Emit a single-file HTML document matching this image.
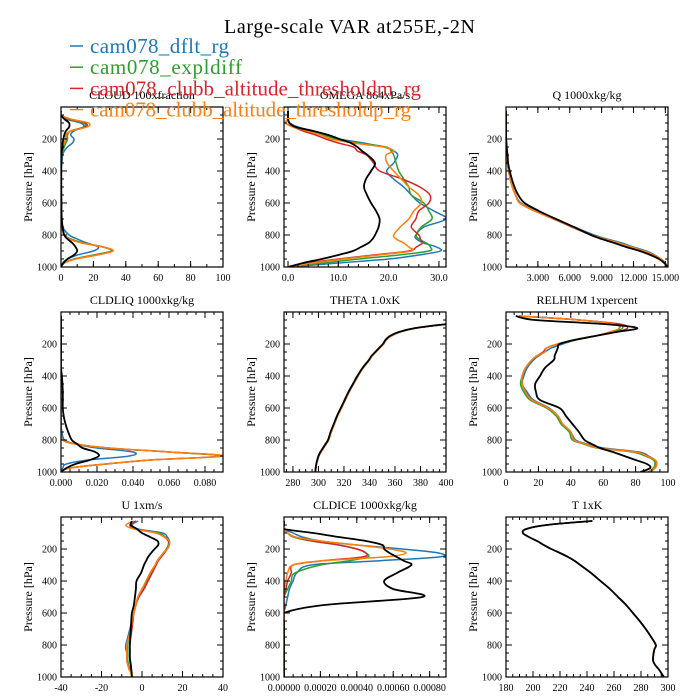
<!DOCTYPE html>
<html><head><meta charset="utf-8"><style>
html,body{margin:0;padding:0;background:#fff;}
svg{display:block;font-family:"Liberation Serif",serif;}
</style></head><body>
<svg id="fig" width="700" height="700" viewBox="0 0 700 700" xmlns="http://www.w3.org/2000/svg">
<rect width="700" height="700" fill="#fff"/>
<text x="224" y="33" font-size="20" textLength="251">Large-scale VAR at255E,-2N</text>
<g id="panels"></g>
<g id="legend"></g>
</svg>
<script>
const levels=[25,50,75,100,125,150,175,200,225,250,275,300,350,400,450,500,550,600,650,700,750,800,825,850,875,900,925,950,975,1000];
const seriesNames=["cam078_dflt_rg","cam078_expldiff","cam078_clubb_altitude_thresholdm_rg","cam078_clubb_altitude_thresholdp_rg"];
const seriesColors=["#1f77b4","#2ca02c","#d62728","#ff7f0e","#000000"];

// CLOUD
const cloudBlue=[0,0,3,12,14,8,6,8,7,4,2,1,0.5,0,0,0,0,0,0,0,1,5,10,16,23,20,10,4,1,0];
const cloudGreen=[0,0,4,14,14,6,4,4,3,2,1,0.5,0,0,0,0,0,0,0,0,0.5,2,6,14,26,31,20,8,2,0];
const cloudRed=[0,0,5,15,15,6,3,3,2,1,0.5,0,0,0,0,0,0,0,0,0,0.5,2,5,13,26,32,22,9,2,0];
const cloudOrange=[0,0,6,17,16,6,3,3,2,1,0.5,0,0,0,0,0,0,0,0,0,0.5,2,5,13,26,32,22,9,2,0];
const cloudBlack=[0,0,2,5,5,3,2,1.5,1,1,0.5,0.3,0.2,0.2,0.2,0.2,0.2,0.3,0.3,0.5,1,2,4,7,9,10,8,4,1.5,0];
// OMEGA
const omegaBlue=[0,0,0,0.3,2,5,8,10.2,15,19.1,21,21.8,21,19.6,21,23,24.5,26.2,29,31.4,27,25.4,25.5,27,29.5,30.3,26,20,10,0];
const omegaGreen=[0,0,0,0.2,1.5,4.5,7,9.5,14,19.5,20.5,21,21.5,22,23,24,24.5,27,28,28.6,26.5,25.5,26,27.5,28.3,28,22,14,7,0];
const omegaRed=[0,0,0,-0.5,1,3,5.5,7.5,10,13,13.8,15.6,17,18.2,22.7,26.2,28.2,28,26,25.4,24.5,26,26.3,26.7,25.5,24,17,10,4,0];
const omegaOrange=[0,0,0,-0.5,1,4,6.5,8.5,13,19,21,19.5,19.7,21,22.5,24,26,26.5,25,24,22.3,21,21.5,23,24,24.5,18,11,5,0];
const omegaBlack=[0,0,0,0.3,1.5,5,8,10.2,12.5,13.8,14.7,15.8,17.3,16.5,15.5,15.1,15.7,16.5,17.5,18.2,18,17.3,16.8,16,14.5,12.9,10,6.7,3,0];
// Q
const qBlue=[0,0,0,0,0,0,0.01,0.02,0.03,0.05,0.08,0.12,0.14,0.25,0.4,0.6,0.9,1.4,2.8,4.6,6.4,8.3,9.5,10.9,12.0,13.2,14.0,14.6,15.0,15.2];
const qGreen=[0,0,0,0,0,0,0.01,0.02,0.03,0.05,0.08,0.12,0.14,0.25,0.4,0.6,0.9,1.3,2.7,4.5,6.2,8.0,9.2,10.5,11.7,12.9,13.8,14.5,14.9,15.2];
const qRed=[0,0,0,0,0,0,0.01,0.02,0.03,0.05,0.08,0.12,0.14,0.25,0.4,0.6,0.9,1.3,2.7,4.5,6.2,8.0,9.2,10.5,11.7,12.9,13.8,14.5,14.9,15.2];
const qOrange=[0,0,0,0,0,0,0.01,0.02,0.03,0.05,0.08,0.12,0.14,0.25,0.4,0.6,0.9,1.3,2.7,4.5,6.3,8.1,9.3,10.6,11.8,13.0,13.9,14.6,15.0,15.2];
const qBlack=[0,0,0,0,0,0,0.01,0.02,0.04,0.07,0.1,0.15,0.2,0.35,0.55,0.8,1.15,1.75,3.1,4.7,6.4,8.0,9.0,10.2,11.3,12.6,13.6,14.4,14.9,15.2];
// CLDLIQ
const liqBlue=[0,0,0,0,0,0,0,0,0,0,0,0,0,0,0,0,0,0,0,0,0.0005,0.002,0.008,0.02,0.04,0.038,0.015,0.003,0.001,0];
const liqGreen=[0,0,0,0,0,0,0,0,0,0,0,0,0,0,0,0,0,0,0,0,0,0.001,0.008,0.026,0.06,0.088,0.05,0.025,0.005,0];
const liqRed=[0,0,0,0,0,0,0,0,0,0,0,0,0,0,0,0,0,0,0,0,0,0.001,0.008,0.026,0.06,0.09,0.05,0.025,0.005,0];
const liqOrange=[0,0,0,0,0,0,0,0,0,0,0,0,0,0,0,0,0,0,0,0,0,0.001,0.008,0.026,0.06,0.09,0.05,0.025,0.005,0];
const liqBlack=[0,0,0,0,0,0,0,0,0,0,0,0,0,0.0005,0.0008,0.001,0.001,0.001,0.0015,0.0025,0.004,0.006,0.009,0.012,0.019,0.021,0.016,0.008,0.003,0];
// THETA
const thBlue=[480,430,402,377,364,357,353,351,348,345,342,340,335,331,327.5,324,321,318,315,312.5,310,308,306,304,302,300.3,299.3,298.5,298,297.8];
const thGreen=thBlue.slice(), thRed=thBlue.slice(), thOrange=thBlue.slice();
const thBlack=[480,430,401,376,363,356,352.5,350.5,347.5,344.5,341.5,339.5,334.5,330.5,327,323.5,320.5,317.5,314.5,312,309.5,307.5,305.5,303.5,301.5,300,299,298.3,297.8,297.5];
// RELHUM
const rhBlue=[8,45,68,70,66,55,43,35,28,24,20,17,13,11,10,13,17,26.6,32,35,40,43,50,60,82,88,92,93,92,89];
const rhGreen=[8,45,68,72,66,55,42,32,25,23,19,16,12,10,9,11,15,25,31,34,39,41,48,56,78,86,91,92,91,88];
const rhRed=[8,45,70,75,68,55,42,32,25,23,19,16,12,10,10,12,16,26,32,35,40,42,49,57,80,87,92,93,92,88];
const rhOrange=[8,45,66,70,64,55,42,32,25,24,19,16,12,10,10,12,16,26,32,35,40,42,49,57,80,87,92,93,92,88];
const rhBlack=[6,18,60,81,68,55,42,33,32,31,30,29.5,24,21,18,18.5,21,33,37,41,45,48.5,53,58,66,73,80,87,89,83];
// U
const uBlue=[-2,-5,-2,10,12.5,13.5,13,12.5,10.5,9,7.5,6.5,4,2.5,0,-2,-3,-4,-5,-6,-7,-8,-8,-7.5,-7.5,-7.5,-7,-6,-5.5,-5];
const uGreen=[-3,-6,-3,8,11.5,13,13,12,10.5,9,7.5,6.5,4.5,2.5,0.5,-2,-3,-4,-5,-5.5,-6.5,-7,-7,-7,-7,-7,-6.5,-6,-5.5,-5];
const uRed=[-3,-6,-3,7,11,13,13.5,12.5,11,9.5,8,7,5,3,1,-1.5,-3,-4,-4.5,-5,-5.5,-6,-6,-6,-6,-6,-5.5,-5.5,-5,-5];
const uOrange=[-4,-8,-4,7,11,13.5,13.5,12.5,10.5,9,7.5,6.5,4,2,0,-2,-3,-4,-5,-5.5,-6.5,-7.5,-7.5,-7.5,-7.5,-7.5,-7,-6.5,-5.5,-5];
const uBlack=[-5,-5.5,-2.5,0,4,7.7,8,6.2,4.5,3,2,1,-0.5,-2.7,-3,-3.5,-4,-5,-5.3,-5.5,-5.8,-6,-6,-6,-6,-5.8,-5.5,-5.3,-5.1,-5];
// CLDICE
const iceBlue=[0,0,0,0.00005,0.0001,0.0002,0.0004,0.00065,0.00085,0.00085,0.0005,0.00015,0.00007,0.00005,0.00003,0.00002,0.00001,0,0,0,0,0,0,0,0,0,0,0,0,0];
const iceGreen=[0,0,0,0.00002,0.00005,0.00015,0.0003,0.0004,0.00045,0.00046,0.00035,0.0002,0.00006,0.00004,0.00002,0,0,0,0,0,0,0,0,0,0,0,0,0,0,0];
const iceRed=[0,0,0,0.00002,0.00006,0.00016,0.0003,0.0004,0.00045,0.00043,0.0002,0.00005,0.00004,0.00002,0.00001,0,0,0,0,0,0,0,0,0,0,0,0,0,0,0];
const iceOrange=[0,0,0,0.00002,0.00006,0.0002,0.0004,0.00058,0.00067,0.00055,0.0002,0.00005,0.00002,0.00001,0,0,0,0,0,0,0,0,0,0,0,0,0,0,0,0];
const iceBlack=[0,0,0,0.00016,0.0003,0.00045,0.00054,0.00055,0.00058,0.00062,0.00066,0.0007,0.00062,0.00055,0.0006,0.00076,0.00022,0,0,0,0,0,0,0,0,0,0,0,0,0];
// T
const tBlue=[244,210,195,192.5,197,203,208,213.5,220,226,231,235,243,250,257,263,269,274,279,283.5,287.5,291,290,289.5,289,289,290.5,293,295,297];
const tGreen=tBlue.slice(), tRed=tBlue.slice(), tOrange=tBlue.slice();
const tBlack=[244,210,195,192.5,197,203,208,213.5,220,226,231,235,243,250,257,263,269,274,279,283.5,287.5,291,290,289.3,289,289,290.5,293,295,297];

const cloudTicks=[0,20,40,60,80,100], cloudLabels=["0","20","40","60","80","100"];
const omegaTicks=[0,10,20,30], omegaLabels=["0.0","10.0","20.0","30.0"];
const qTicks=[3,6,9,12,15], qLabels=["3.000","6.000","9.000","12.000","15.000"];
const liqTicks=[0,0.02,0.04,0.06,0.08], liqLabels=["0.000","0.020","0.040","0.060","0.080"];
const thTicks=[280,300,320,340,360,380,400], thLabels=["280","300","320","340","360","380","400"];
const rhTicks=[0,20,40,60,80,100], rhLabels=["0","20","40","60","80","100"];
const uTicks=[-40,-20,0,20,40], uLabels=["-40","-20","0","20","40"];
const iceTicks=[0,0.0002,0.0004,0.0006,0.0008], iceLabels=["0.00000","0.00020","0.00040","0.00060","0.00080"];
const tTicks=[180,200,220,240,260,280,300], tLabels=["180","200","220","240","260","280","300"];
const pTicks=[200,400,600,800,1000], pLabels=["200","400","600","800","1000"];

const panels=[
 {name:"cloud",title:"CLOUD  100xfraction",xmin:0,xmax:100,minor:10,ticks:cloudTicks,labels:cloudLabels,s:[cloudBlue,cloudGreen,cloudRed,cloudOrange,cloudBlack]},
 {name:"omega",title:"OMEGA  864xPa/s",xmin:-0.8,xmax:31.4,minor:2,ticks:omegaTicks,labels:omegaLabels,s:[omegaBlue,omegaGreen,omegaRed,omegaOrange,omegaBlack]},
 {name:"q",title:"Q  1000xkg/kg",xmin:0,xmax:15.25,minor:1,ticks:qTicks,labels:qLabels,s:[qBlue,qGreen,qRed,qOrange,qBlack]},
 {name:"cldliq",title:"CLDLIQ  1000xkg/kg",xmin:0,xmax:0.09,minor:0.005,ticks:liqTicks,labels:liqLabels,s:[liqBlue,liqGreen,liqRed,liqOrange,liqBlack]},
 {name:"theta",title:"THETA  1.0xK",xmin:273,xmax:400,minor:5,ticks:thTicks,labels:thLabels,s:[thBlue,thGreen,thRed,thOrange,thBlack]},
 {name:"relhum",title:"RELHUM  1xpercent",xmin:0,xmax:100,minor:5,ticks:rhTicks,labels:rhLabels,s:[rhBlue,rhGreen,rhRed,rhOrange,rhBlack]},
 {name:"u",title:"U  1xm/s",xmin:-40,xmax:40,minor:5,ticks:uTicks,labels:uLabels,s:[uBlue,uGreen,uRed,uOrange,uBlack]},
 {name:"cldice",title:"CLDICE  1000xkg/kg",xmin:0,xmax:0.00089,minor:0.00005,ticks:iceTicks,labels:iceLabels,s:[iceBlue,iceGreen,iceRed,iceOrange,iceBlack]},
 {name:"t",title:"T  1xK",xmin:180,xmax:300,minor:5,ticks:tTicks,labels:tLabels,s:[tBlue,tGreen,tRed,tOrange,tBlack]}
];

const NS="http://www.w3.org/2000/svg";
function mk(tag,attrs,parent){const e=document.createElementNS(NS,tag);for(const k in attrs)e.setAttribute(k,attrs[k]);parent.appendChild(e);return e;}
function smooth(pts){
  let d="M"+pts[0][0].toFixed(2)+","+pts[0][1].toFixed(2);
  for(let i=0;i<pts.length-1;i++){
    const p0=pts[Math.max(0,i-1)],p1=pts[i],p2=pts[i+1],p3=pts[Math.min(pts.length-1,i+2)];
    const c1x=p1[0]+(p2[0]-p0[0])/6,c1y=p1[1]+(p2[1]-p0[1])/6;
    const c2x=p2[0]-(p3[0]-p1[0])/6,c2y=p2[1]-(p3[1]-p1[1])/6;
    d+="C"+c1x.toFixed(2)+","+c1y.toFixed(2)+" "+c2x.toFixed(2)+","+c2y.toFixed(2)+" "+p2[0].toFixed(2)+","+p2[1].toFixed(2);
  }
  return d;
}
const lefts=[61,284,506], tops=[107,312,517], W=162, H=160;
const root=document.getElementById("panels");
panels.forEach((pn,i)=>{
  const L=lefts[i%3], T=tops[Math.floor(i/3)];
  const xs=v=>L+(v-pn.xmin)/(pn.xmax-pn.xmin)*W;
  const ys=p=>T+p/1000*H;
  const g=mk("g",{},root);
  
  
  const tt=mk("text",{x:L+W/2,y:T-8,"text-anchor":"middle","font-size":"12"},g);
  tt.textContent=pn.title;
  
  
  const cp=mk("clipPath",{id:"cp"+i},g);
  mk("rect",{x:L,y:T,width:W,height:H},cp);
  const lg=mk("g",{"clip-path":"url(#cp"+i+")"},g);
  pn.s.forEach((arr,k)=>{
    const pts=arr.map((v,j)=>[xs(v),ys(levels[j])]);
    const path=mk("path",{d:smooth(pts),fill:"none",stroke:seriesColors[k],"stroke-width":k==4?1.8:1.5,"stroke-linejoin":"round"},lg);
    
    
  });
  const fr=mk("rect",{x:L,y:T,width:W,height:H,fill:"none",stroke:"#000","stroke-width":1.2},g);
  
  
  const tk=mk("g",{stroke:"#000","stroke-width":1},g);
  const start=Math.ceil(pn.xmin/pn.minor-1e-9);
  for(let m=start;m*pn.minor<=pn.xmax+1e-12;m++){
    const x=xs(m*pn.minor);
    mk("line",{x1:x,y1:T+H,x2:x,y2:T+H-3},tk);
    mk("line",{x1:x,y1:T,x2:x,y2:T+3},tk);
  }
  pn.ticks.forEach((v,j)=>{
    const x=xs(v);
    mk("line",{x1:x,y1:T+H,x2:x,y2:T+H-6},tk);
    mk("line",{x1:x,y1:T,x2:x,y2:T+6},tk);
    const lb=mk("text",{x:x,y:T+H+14,"text-anchor":"middle","font-size":"10"},g);
    lb.textContent=pn.labels[j];
    
    
  });
  for(let p=50;p<=1000;p+=50){
    const y=ys(p);
    mk("line",{x1:L,y1:y,x2:L+3,y2:y},tk);
    mk("line",{x1:L+W,y1:y,x2:L+W-3,y2:y},tk);
  }
  pTicks.forEach((p,j)=>{
    const y=ys(p);
    mk("line",{x1:L,y1:y,x2:L+6,y2:y},tk);
    mk("line",{x1:L+W,y1:y,x2:L+W-6,y2:y},tk);
    const lb=mk("text",{x:L-4,y:y+3.5,"text-anchor":"end","font-size":"10"},g);
    lb.textContent=pLabels[j];
    
    
  });
  const yt=mk("text",{x:0,y:0,"text-anchor":"middle","font-size":"12",transform:"translate("+(L-29)+","+(T+H/2)+") rotate(-90)"},g);
  yt.textContent="Pressure [hPa]";
  
  
});
const leg=document.getElementById("legend");
const legLens=[139,152,331,321];
seriesNames.forEach((nm,k)=>{
  const y=53+k*21.2;
  const ent=mk("g",{},leg);
  
  
  mk("line",{x1:70,y1:y-7,x2:83,y2:y-7,stroke:seriesColors[k],"stroke-width":1.5},ent);
  const t=mk("text",{x:90,y:y,"font-size":"21",fill:seriesColors[k],textLength:legLens[k]},ent);
  t.textContent=nm;
});
</script>
</body></html>
